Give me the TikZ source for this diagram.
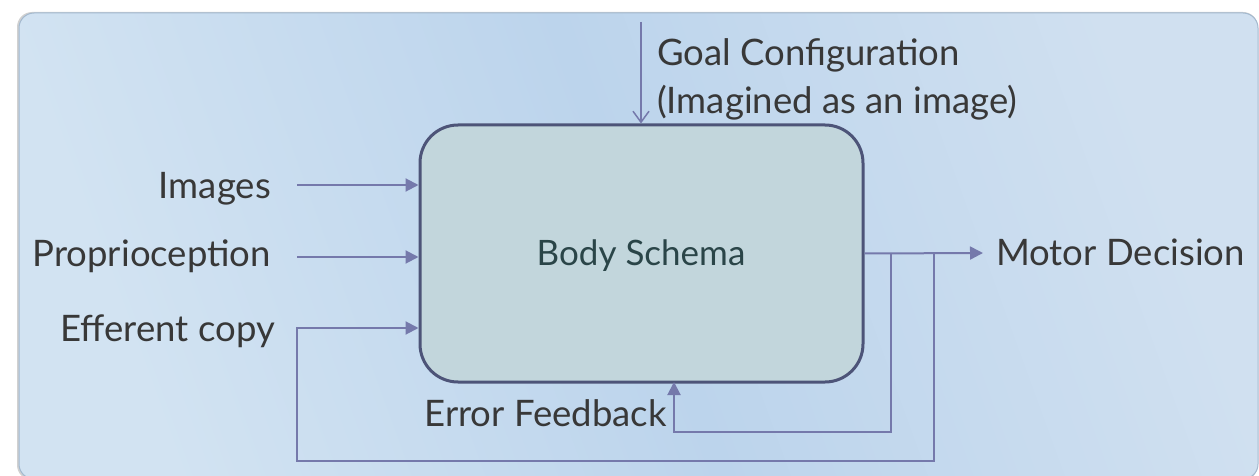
\documentclass[tikz,border=0pt]{standalone}
\usepackage{fontspec}
\setmainfont{Lato}
\usetikzlibrary{arrows.meta}
\definecolor{arrc}{HTML}{7579AB}
\definecolor{boxedge}{HTML}{4D5478}
\definecolor{boxfill}{HTML}{C2D6DC}
\definecolor{txt}{HTML}{383838}
\definecolor{bstxt}{HTML}{2A4548}
\definecolor{panA}{HTML}{D0E0F0}
\definecolor{panB}{HTML}{BCD4EC}
\definecolor{panC}{HTML}{D2E3F2}
\definecolor{panedge}{HTML}{A3B9CF}
\tikzset{
  lbl/.style={text=txt, font=\fontsize{36.5}{40}\selectfont, inner sep=0pt},
  conn/.style={draw=arrc, line width=2pt},
  arr/.style={conn, -{Triangle[length=13pt,width=13pt]}},
  openarr/.style={conn, -{Straight Barb[length=11pt,width=16pt,line width=1.5pt]}},
  bodybox/.style={draw=boxedge, line width=3pt, fill=boxfill, rounded corners=38pt,
    minimum width=443pt, minimum height=257pt}
}
\begin{document}
\begin{tikzpicture}[x=1pt,y=-1pt]
\useasboundingbox (0,0) rectangle (1259,476);
% panel
\fill[black!18, rounded corners=15pt] (17,12) rectangle (1258,480);
\shade[rounded corners=15pt, left color=panA, right color=panC, middle color=panB, shading angle=-70]
  (19,13) rectangle (1258,479);
\draw[panedge, line width=1pt, rounded corners=15pt] (19,13) rectangle (1258,479);
% body schema
\node[bodybox] (bs) at (641.5,253.5) {};
\node[text=bstxt, font=\fontsize{35}{40}\selectfont, inner sep=0pt, anchor=base] (bst) at (641,265) {Body Schema};
% labels
\node[lbl, anchor=base east] (img) at (271,199) {Images};
\node[lbl, anchor=base east] (pro) at (271,266) {Proprioception};
\node[lbl, anchor=base east] (eff) at (275,341) {Efferent copy};
\node[lbl, anchor=base west] (goal) at (657,66) {Goal Configuration};
\node[lbl, anchor=base west] (goal2) at (657,114) {(Imagined as an image)};
\node[lbl, anchor=base west] (md) at (996,265) {Motor Decision};
\node[lbl, anchor=base east] (ef) at (667,426) {Error Feedback};
% coordinates
\coordinate (gtop) at (641,22);
\coordinate (a1) at (297,185);
\coordinate (a2) at (297,257);
\coordinate (a3) at (297,328);
\coordinate (mdtip) at (983,253);
\coordinate (fb1) at (891,432);
\coordinate (fb2) at (934,461);
\coordinate (efb) at (674,382);
% connectors
\draw[openarr] (gtop) -- (gtop |- bs.north);
\draw[arr] (a1) -- (a1 -| bs.west);
\draw[arr] (a2) -- (a2 -| bs.west);
\draw[arr] (bs.east) -- (mdtip);
\draw[arr] (bs.east -| fb1) |- (fb1) -| (efb);
\draw[arr] (bs.east -| fb2) |- (fb2) -| (a3) -- (a3 -| bs.west);
\end{tikzpicture}
\end{document}
